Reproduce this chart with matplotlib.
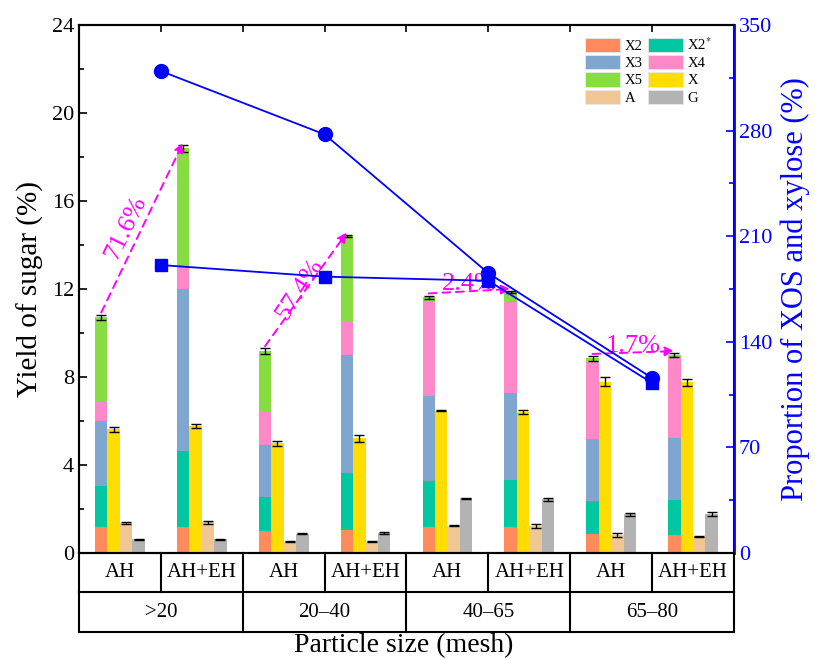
import matplotlib
matplotlib.use("Agg")
import matplotlib.pyplot as plt
import numpy as np
from matplotlib.patches import Patch

plt.rcParams['font.family'] = ['Liberation Serif', 'DejaVu Serif']
plt.rcParams['mathtext.fontset'] = 'stix'

# ---- data ----
groups = ['>20', '20\u201340', '40\u201365', '65\u201380']
treat = ['AH', 'AH+EH'] * 4

# stacked XOS components (yield of sugar, %)
x2 = [1.17, 1.20, 1.02, 1.05, 1.20, 1.20, 0.85, 0.82]
x2s = [1.89, 3.44, 1.51, 2.60, 2.09, 2.12, 1.53, 1.59]
x3 = [2.95, 7.34, 2.36, 5.33, 3.86, 3.94, 2.79, 2.80]
x4 = [0.91, 1.02, 1.55, 1.51, 4.24, 4.19, 3.57, 3.71]
x5 = [3.79, 5.40, 2.74, 3.92, 0.23, 0.40, 0.11, 0.08]
xos_err = [0.12, 0.15, 0.12, 0.06, 0.08, 0.05, 0.10, 0.08]

xyl = [5.62, 5.77, 4.98, 5.21, 6.47, 6.42, 7.79, 7.76]
xyl_err = [0.10, 0.10, 0.12, 0.15, 0.03, 0.10, 0.20, 0.15]
ara = [1.35, 1.39, 0.52, 0.52, 1.24, 1.24, 0.82, 0.74]
ara_err = [0.04, 0.06, 0.03, 0.02, 0.02, 0.08, 0.10, 0.02]
glc = [0.62, 0.62, 0.88, 0.92, 2.49, 2.45, 1.77, 1.77]
glc_err = [0.01, 0.01, 0.03, 0.04, 0.02, 0.07, 0.07, 0.09]

# proportion of XOS and xylose (%), right axis
prop_circ = [319.5, 277.5, 185.5, 116.0]
prop_sq = [190.9, 183.2, 180.5, 112.7]

increase = ['71.6%', '57.4%', '2.4%', '1.7%']

colors = {'X2': '#FF8A5C', 'X2*': '#00C7A2', 'X3': '#7FA6CE', 'X4': '#FF89C8',
          'X5': '#86DD40', 'X': '#FFDD00', 'A': '#F0C792', 'G': '#B3B3B3'}

fig = plt.figure(figsize=(8.15, 6.59), dpi=100)
ax = fig.add_axes([0.0969, 0.1608, 0.8037, 0.8012])

n = len(treat)
pos = np.arange(n)
w = 0.152
err_kw = dict(ecolor='black', capsize=3.5, elinewidth=1, capthick=1)

bottom = np.zeros(n)
for vals, key in [(x2, 'X2'), (x2s, 'X2*'), (x3, 'X3'), (x4, 'X4'), (x5, 'X5')]:
    ax.bar(pos - 1.5 * w, vals, w, bottom=bottom, color=colors[key], zorder=2)
    bottom = bottom + np.array(vals)
tot = bottom
ax.errorbar(pos - 1.5 * w, tot, yerr=xos_err, fmt='none', zorder=3, **err_kw)
ax.bar(pos - 0.5 * w, xyl, w, color=colors['X'], yerr=xyl_err, error_kw=err_kw, zorder=2)
ax.bar(pos + 0.5 * w, ara, w, color=colors['A'], yerr=ara_err, error_kw=err_kw, zorder=2)
ax.bar(pos + 1.5 * w, glc, w, color=colors['G'], yerr=glc_err, error_kw=err_kw, zorder=2)

# magenta arrows for the increase AH -> AH+EH
rots = [64, 57, 0, 0]
txt_off = [(-0.2, 0.0), (-0.08, 0.0), (0.0, 0.35), (0.0, 0.3)]
for g in range(4):
    i, j = 2 * g, 2 * g + 1
    x0, y0 = pos[i] - 1.5 * w, tot[i] + xos_err[i] + 0.1
    x1, y1 = pos[j] - 1.5 * w, tot[j] + xos_err[j] + 0.1
    ax.annotate('', xy=(x1, y1), xytext=(x0, y0),
                arrowprops=dict(arrowstyle='-|>', color='#FF00FF', lw=1.4,
                                linestyle=(0, (4, 3)), mutation_scale=14,
                                shrinkA=0, shrinkB=0), zorder=5)
    ax.text((x0 + x1) / 2 + txt_off[g][0], (y0 + y1) / 2 + txt_off[g][1], increase[g],
            color='#FF00FF', fontsize=19, rotation=rots[g], ha='center', va='center', zorder=5)

ax.set_xlim(-0.5, n - 0.5)
ax.set_ylim(0, 24)
ax.set_yticks(np.arange(0, 25, 4))
ax.set_yticks(np.arange(2, 24, 4), minor=True)
ax.set_ylabel('Yield of sugar (%)', fontsize=21, labelpad=6)
ax.tick_params(axis='y', which='major', direction='in', length=6, width=1.2, labelsize=16)
ax.tick_params(axis='y', which='minor', direction='in', length=3.5, width=1.2)
ax.set_xticks(np.arange(0.5, n - 0.5, 1))
ax.tick_params(axis='x', which='both', bottom=False, top=True, labelbottom=False,
               direction='in', length=5, width=1.2)
for s in ax.spines.values():
    s.set_linewidth(1.5)

ax2 = ax.twinx()
ax2.plot(pos[::2] + 0.5, prop_circ, '-o', color='#0000FF', lw=1.3, ms=10, zorder=4)
ax2.plot(pos[::2] + 0.5, prop_sq, '-s', color='#0000FF', lw=1.3, ms=8.5, zorder=4)
ax2.set_ylim(0, 350)
ax2.set_yticks(np.arange(0, 351, 70))
ax2.set_yticks(np.arange(35, 350, 70), minor=True)
ax2.set_ylabel('Proportion of XOS and xylose (%)', fontsize=22, color='#0000FF', labelpad=6)
ax2.tick_params(axis='y', which='major', direction='in', length=6, width=1.2,
                labelsize=16, colors='#0000FF')
ax2.tick_params(axis='y', which='minor', direction='in', length=3.5, width=1.2, colors='#0000FF')
ax2.spines['right'].set_color('#0000FF')
for s in ax2.spines.values():
    s.set_linewidth(1.5)
ax2.spines['right'].set_linewidth(2)

# legend
order = ['X2', 'X3', 'X5', 'A', 'X2*', 'X4', 'X', 'G']
names = {'X2': 'X2', 'X3': 'X3', 'X5': 'X5', 'A': 'A', 'X2*': 'X2$^{*}$',
         'X4': 'X4', 'X': 'X', 'G': 'G'}
handles = [Patch(facecolor=colors[k], edgecolor='#E8E8E8', lw=0.6, label=names[k]) for k in order]
ax2.legend(handles=handles, ncol=2, frameon=False, fontsize=10.5,
           loc='upper right', bbox_to_anchor=(0.966, 0.979),
           handlelength=2.4, handleheight=1.15, handletextpad=0.3,
           labelspacing=0.15, columnspacing=0.35, borderaxespad=0, borderpad=0)

# category table below the axes
axt = fig.add_axes([0.0969, 0.041, 0.8037, 0.1199])
axt.set_xlim(-0.5, n - 0.5)
axt.set_ylim(0, 2)
axt.axis('off')
lk = dict(color='black', lw=1.5, clip_on=False)
axt.plot([-0.5, n - 0.5], [0, 0], **lk)
axt.plot([-0.5, n - 0.5], [1, 1], **lk)
for xb in np.arange(-0.5, n, 1):
    axt.plot([xb, xb], [1, 2], **lk)
for xb in np.arange(-0.5, n, 2):
    axt.plot([xb, xb], [0, 1], **lk)
for i in range(n):
    axt.text(pos[i], 1.5, treat[i], ha='center', va='center', fontsize=15)
for g in range(4):
    axt.text(2 * g + 0.5, 0.5, groups[g], ha='center', va='center', fontsize=15)

fig.text(0.4954, 0.021, 'Particle size (mesh)', ha='center', va='center', fontsize=20)

fig.savefig('out.png', dpi=100)
